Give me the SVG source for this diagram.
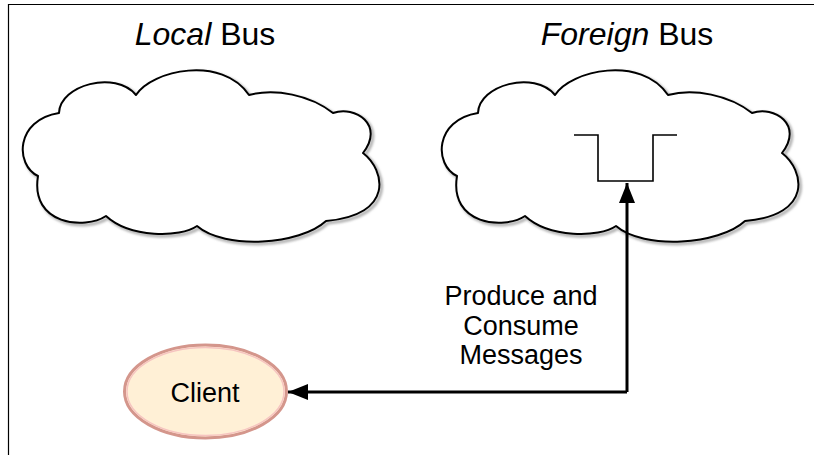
<svg xmlns="http://www.w3.org/2000/svg" width="814" height="455" viewBox="0 0 814 455">
  <style>
    .title { font-family: "Liberation Sans", Arial, sans-serif; font-size: 32px; fill: #000; text-anchor: middle; }
    .label { font-family: "Liberation Sans", Arial, sans-serif; font-size: 27px; fill: #000; text-anchor: middle; }
    .cloud-shadow { fill: none; stroke: #b8b8b8; stroke-width: 3.5; }
    .cloud { fill: #fff; stroke: #000; stroke-width: 2; stroke-linejoin: round; }
    .queue { fill: none; stroke: #000; stroke-width: 1.6; }
    .conn { fill: none; stroke: #000; stroke-width: 3; }
  </style>
  <defs>
    <path id="cloudShape" d="M 136 95 C 152 70, 222 55, 249 95 C 275 88, 310 95, 333 113 C 355 105, 385 125, 363 153 C 385 170, 395 215, 326 221 C 300 245, 225 250, 197 226 C 180 238, 130 238, 106 216 C 85 230, 30 225, 38 176 C 15 165, 15 120, 59 113 C 60 85, 115 70, 136 95 Z"/>
    <filter id="blur" x="-5%" y="-5%" width="110%" height="110%">
      <feGaussianBlur stdDeviation="0.8"/>
    </filter>
    <marker id="arrow" markerUnits="userSpaceOnUse" markerWidth="22" markerHeight="18" refX="20" refY="8" orient="auto">
      <path d="M 0 0 L 20 8 L 0 16 Z" fill="#000"/>
    </marker>
  </defs>
  <rect x="0" y="0" width="814" height="455" fill="#fff"/>
  <path d="M 8.5 455 V 4.5 H 814" fill="none" stroke="#000" stroke-width="1.2"/>

  <g id="local-bus">
    <use href="#cloudShape" class="cloud-shadow" transform="translate(2,2)" filter="url(#blur)"/>
    <use href="#cloudShape" class="cloud"/>
    <text class="title" x="205" y="45"><tspan font-style="italic">Local</tspan> Bus</text>
  </g>

  <g id="foreign-bus">
    <use href="#cloudShape" class="cloud-shadow" transform="translate(421,2)" filter="url(#blur)"/>
    <use href="#cloudShape" class="cloud" transform="translate(419,0)"/>
    <text class="title" x="627" y="45"><tspan font-style="italic">Foreign</tspan> Bus</text>
    <path id="queue" class="queue" d="M 574 135 H 598 V 181 H 653 V 135 H 677"/>
  </g>

  <g id="client">
    <ellipse cx="205.5" cy="391.5" rx="81" ry="46.5" fill="#fff0d6" stroke="#d4968c" stroke-width="3"/>
    <ellipse cx="205.5" cy="391.5" rx="78.5" ry="44" fill="none" stroke="#f6c4c0" stroke-width="1.5"/>
    <text class="label" x="205" y="402" font-size="28">Client</text>
  </g>

  <g id="connectors">
    <path class="conn" d="M 627 392 V 183" marker-end="url(#arrow)"/>
    <path class="conn" d="M 627 392 H 288" marker-end="url(#arrow)"/>
    <text class="label" x="521" y="305">Produce and</text>
    <text class="label" x="521" y="334.5">Consume</text>
    <text class="label" x="521" y="364">Messages</text>
  </g>
</svg>
